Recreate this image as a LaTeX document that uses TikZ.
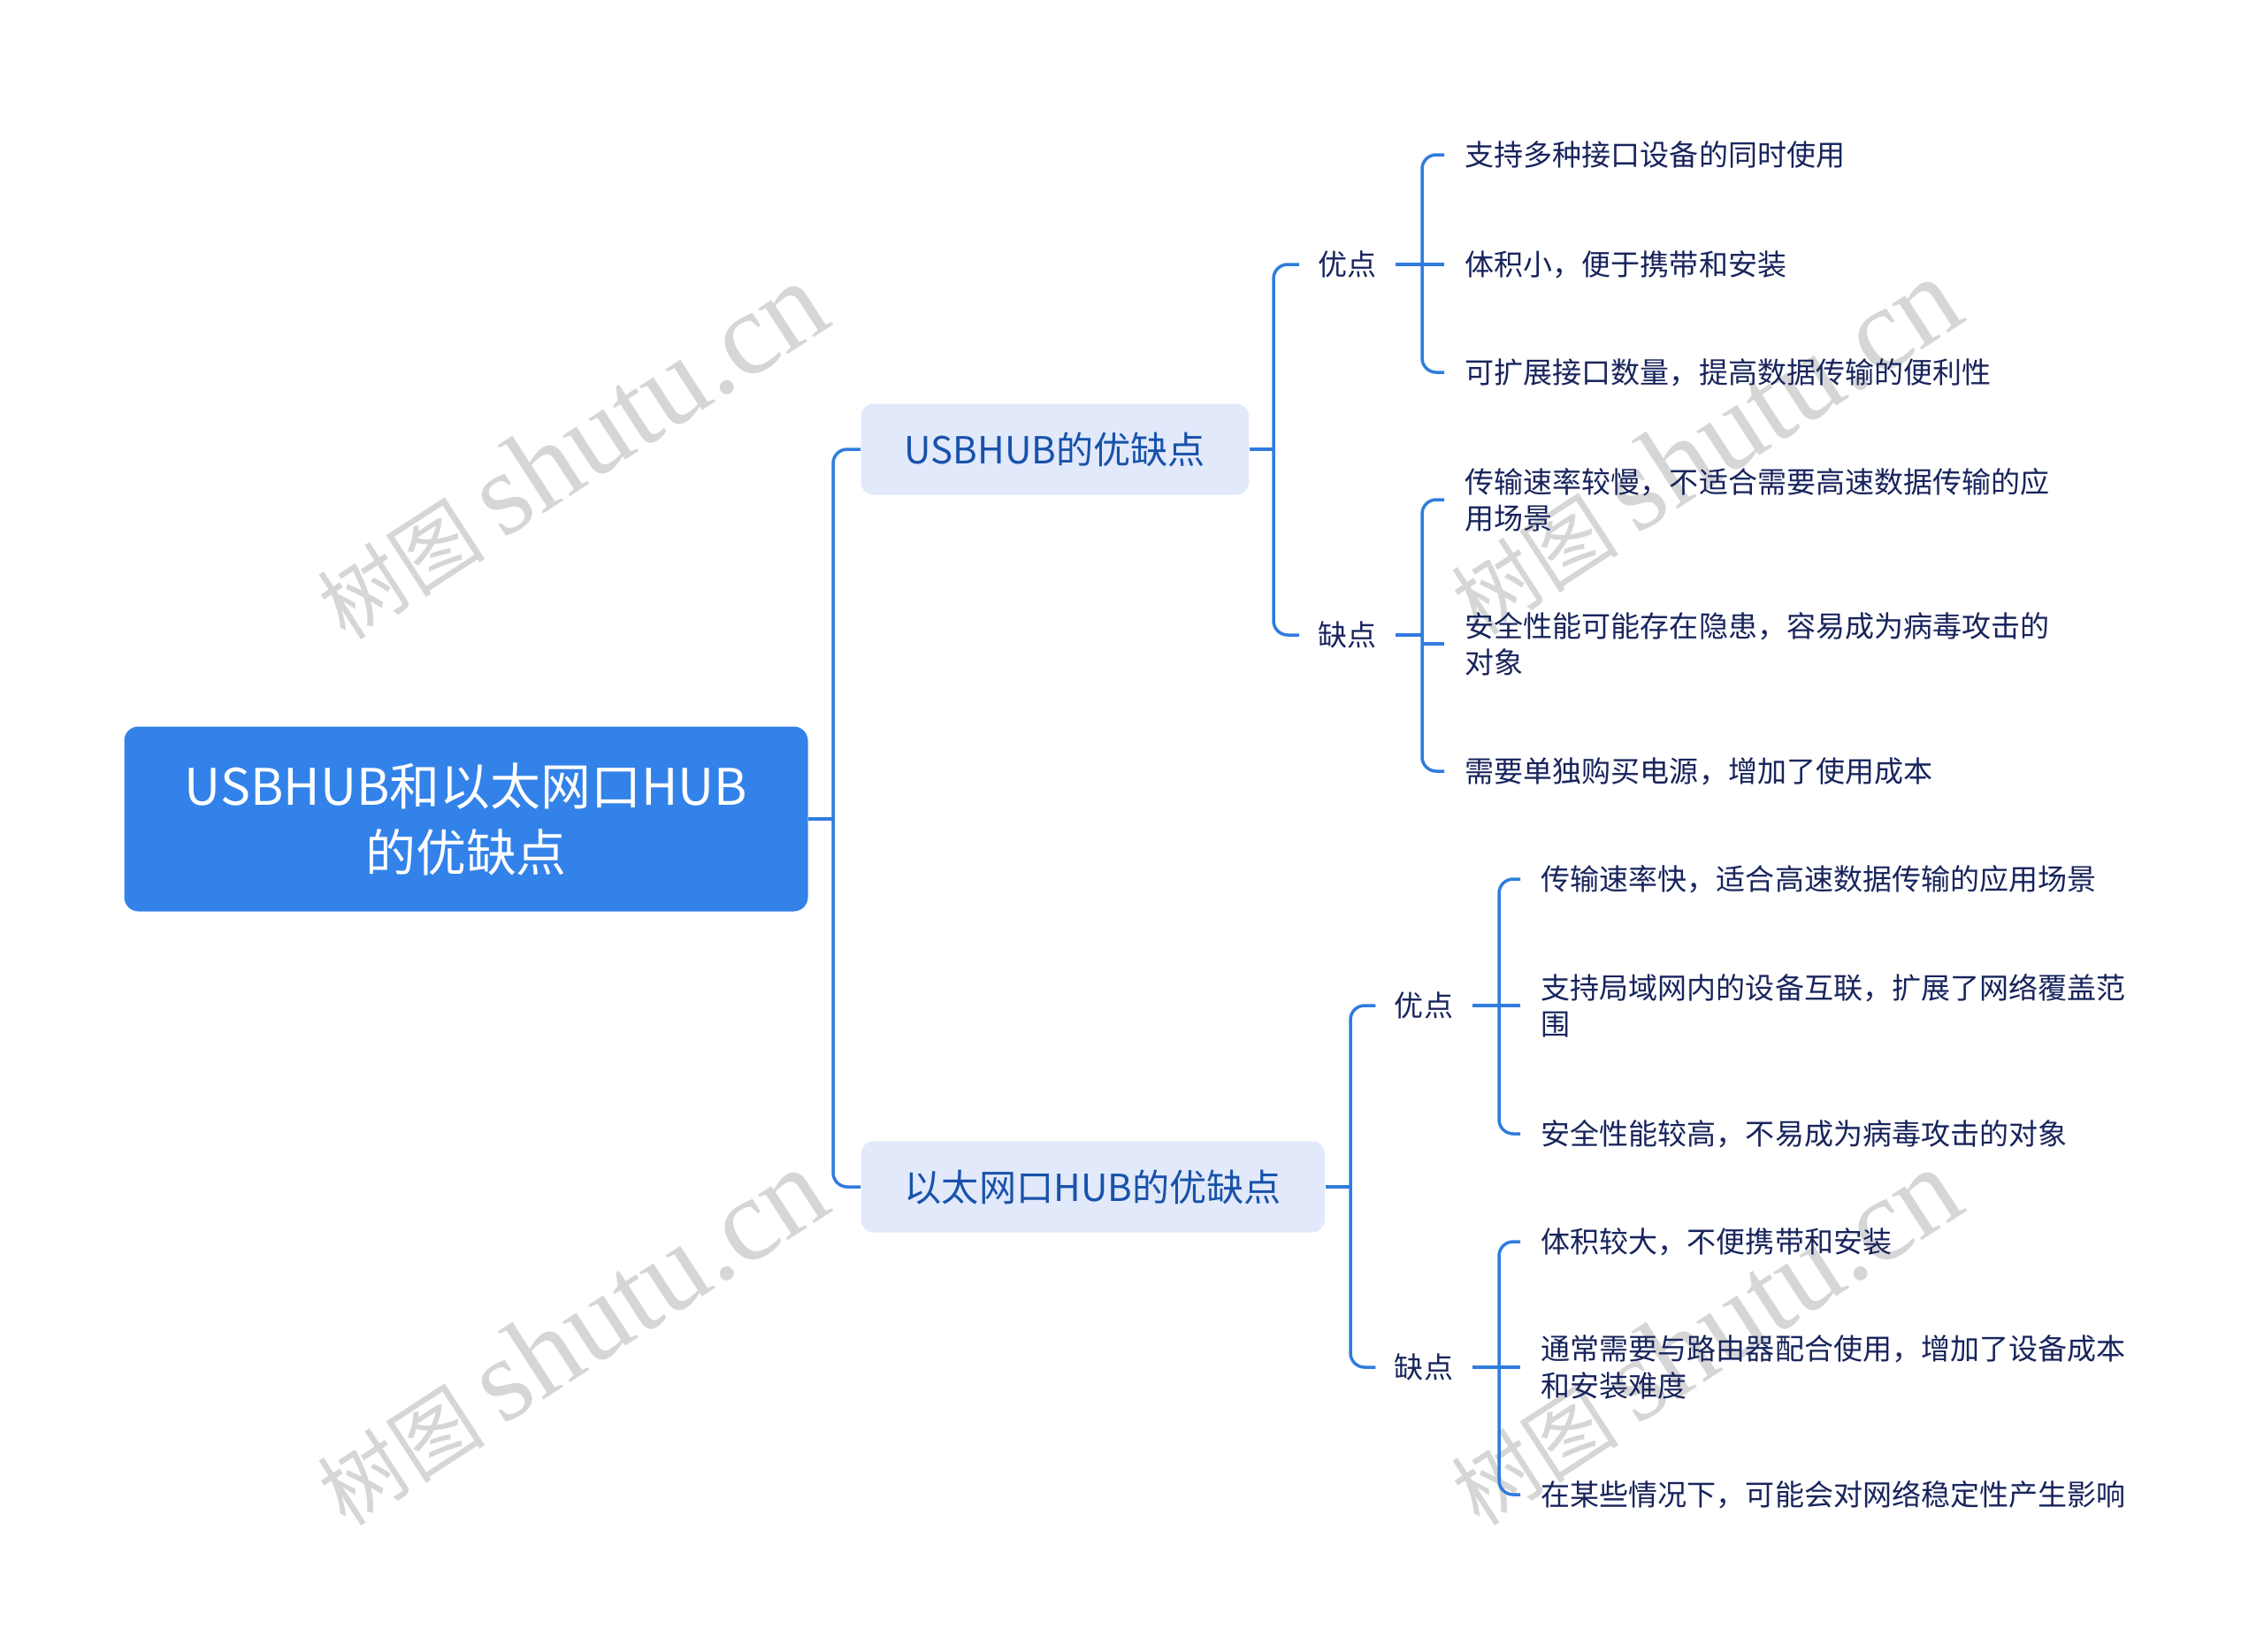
\documentclass[tikz,border=0pt]{standalone}
\usepackage{fontspec}
\setmainfont{Noto Sans CJK SC}
\newfontfamily\wmfont{Liberation Serif}
\usepackage{tikz}
\usetikzlibrary{positioning, calc}

\definecolor{rootblue}{RGB}{51,130,233}
\definecolor{subfill}{RGB}{225,233,251}
\definecolor{subtext}{RGB}{24,82,170}
\definecolor{linkblue}{RGB}{48,124,222}
\definecolor{leaftext}{RGB}{24,36,92}
\definecolor{wmgray}{RGB}{214,214,214}

\begin{document}
\begin{tikzpicture}[
  topic/.style={fill=rootblue, rounded corners=0.16cm,
                minimum width=7.73cm, minimum height=2.09cm,
                text=white, font=\fontsize{16.2}{21.3}\selectfont, align=center},
  sub/.style={fill=subfill, rounded corners=0.14cm, anchor=west,
              minimum height=1.03cm, inner xsep=0.49cm,
              text=subtext, font=\fontsize{12}{14}\selectfont},
  lbl/.style={text=leaftext, inner xsep=0.21cm, inner ysep=0.05cm,
              font=\fontsize{9.4}{11.7}\selectfont},
  leaf/.style={anchor=west, text=leaftext, inner xsep=0.23cm, inner ysep=0.05cm,
               align=left, font=\fontsize{9.4}{11.7}\selectfont},
  link/.style={draw=linkblue, line width=0.035cm, rounded corners=0.16cm},
  wm/.style={text=wmgray, rotate=33, font=\fontsize{27}{27}\selectfont},
]
\useasboundingbox (0,0) rectangle (25.6,-18.67);
\fill[white] (0,0) rectangle (25.6,-18.67);

% Watermarks
\newcommand\wmtext{树图 {\wmfont\fontsize{38}{38}\selectfont shutu.cn}}
\node[wm] (wm1) at (6.45,-5.10)  {\wmtext};
\node[wm] (wm2) at (6.45,-15.12) {\wmtext};
\node[wm] (wm3) at (19.27,-5.05) {\wmtext};
\node[wm] (wm4) at (19.27,-15.12) {\wmtext};

% Root
\node[topic] (root) at (5.27,-9.26) {USBHUB和以太网口HUB\\的优缺点};

% Level 1
\node[sub] (usb) at (9.73,-5.08)  {USBHUB的优缺点};
\node[sub] (eth) at (9.73,-13.42) {以太网口HUB的优缺点};

% Level 2
\node[lbl] (usbpro) at (15.235,-2.99)  {优点};
\node[lbl] (usbcon) at (15.235,-7.18)  {缺点};
\node[lbl] (ethpro) at (16.10,-11.37)  {优点};
\node[lbl] (ethcon) at (16.10,-15.46)  {缺点};

% Leaves: USBHUB
\node[leaf] (up1) at (16.33,-1.75) {支持多种接口设备的同时使用};
\node[leaf] (up2) at (16.33,-2.99) {体积小，便于携带和安装};
\node[leaf] (up3) at (16.33,-4.21) {可扩展接口数量，提高数据传输的便利性};
\node[leaf] (uc1) at (16.33,-5.65) {传输速率较慢，不适合需要高速数据传输的应\\用场景};
\node[leaf] (uc2) at (16.33,-7.28) {安全性能可能存在隐患，容易成为病毒攻击的\\对象};
\node[leaf] (uc3) at (16.33,-8.72) {需要单独购买电源，增加了使用成本};

% Leaves: Ethernet HUB
\node[leaf] (ep1) at (17.19,-9.94)  {传输速率快，适合高速数据传输的应用场景};
\node[leaf] (ep2) at (17.19,-11.37) {支持局域网内的设备互联，扩展了网络覆盖范\\围};
\node[leaf] (ep3) at (17.19,-12.82) {安全性能较高，不易成为病毒攻击的对象};
\node[leaf] (ec1) at (17.19,-14.04) {体积较大，不便携带和安装};
\node[leaf] (ec2) at (17.19,-15.46) {通常需要与路由器配合使用，增加了设备成本\\和安装难度};
\node[leaf] (ec3) at (17.19,-16.90) {在某些情况下，可能会对网络稳定性产生影响};

% Edges: root
\coordinate (s0) at (9.42,-9.26);
\draw[link] (root.east) -- (s0);
\draw[link] (usb.west) -| (s0) |- (eth.west);

% Edges: level 1
\coordinate (s1) at (14.40,-5.08);
\draw[link] (usb.east) -- (s1);
\draw[link] (usbpro.west) -| (s1) |- (usbcon.west);
\coordinate (s4) at (15.27,-13.42);
\draw[link] (eth.east) -- (s4);
\draw[link] (ethpro.west) -| (s4) |- (ethcon.west);

% Edges: leaves
\coordinate (s2) at (16.08,-2.99);
\draw[link] (usbpro.east) -- (s2);
\draw[link] (up1.west) -| (s2) |- (up3.west);
\draw[link] (up2.west) -- (up2.west -| s2);

\coordinate (s3) at (16.08,-7.18);
\draw[link] (usbcon.east) -- (s3);
\draw[link] (uc1.west) -| (s3) |- (uc3.west);
\draw[link] (uc2.west) -- (uc2.west -| s3);

\coordinate (s5) at (16.95,-11.37);
\draw[link] (ethpro.east) -- (s5);
\draw[link] (ep1.west) -| (s5) |- (ep3.west);
\draw[link] (ep2.west) -- (ep2.west -| s5);

\coordinate (s6) at (16.95,-15.46);
\draw[link] (ethcon.east) -- (s6);
\draw[link] (ec1.west) -| (s6) |- (ec3.west);
\draw[link] (ec2.west) -- (ec2.west -| s6);
\end{tikzpicture}
\end{document}
